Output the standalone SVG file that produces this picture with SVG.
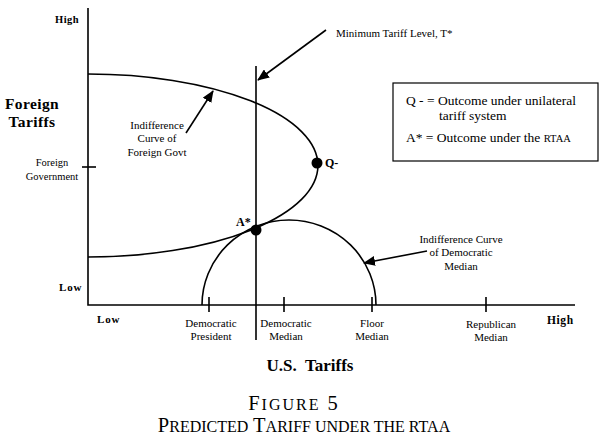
<svg xmlns="http://www.w3.org/2000/svg" width="609" height="446" viewBox="0 0 609 446">
<style>
text{font-family:"Liberation Serif","Times New Roman",serif;fill:#000}
.s{font-size:11px}
.b{font-weight:bold}
.m{text-anchor:middle}
.ln{stroke:#000;stroke-width:1.6;fill:none}
</style>
<defs>
<marker id="ah" markerWidth="12" markerHeight="10" refX="11" refY="5" orient="auto" markerUnits="userSpaceOnUse">
<path d="M0,0 L12,5 L0,10 Z" fill="#000"/>
</marker>
</defs>
<rect width="609" height="446" fill="#fff"/>
<g id="axes">
<path class="ln" d="M88,8 V305 H575"/>
<path class="ln" d="M82,167 H96"/>
<path class="ln" d="M209,297 V312 M284,297 V312 M372,297 V312 M486,297 V312"/>
<text class="b" x="55" y="23" font-size="10.5" letter-spacing="0.5">High</text>
<text class="b" x="59" y="291" font-size="11" letter-spacing="0.8">Low</text>
<text class="b" x="97" y="323" font-size="11" letter-spacing="0.8">Low</text>
<text class="b" x="547" y="324" font-size="11.5" letter-spacing="0.6">High</text>
<text class="b m" x="32" y="109" font-size="15.5" letter-spacing="0.4">Foreign</text>
<text class="b m" x="32" y="127" font-size="15.5" letter-spacing="0.4">Tariffs</text>
<text class="m" x="52" y="166" font-size="10.5">Foreign</text>
<text class="m" x="52" y="180" font-size="10.5">Government</text>
<text class="b m" x="310" y="371" font-size="17" xml:space="preserve">U.S.  Tariffs</text>
</g>
<g id="ticklabels">
<text class="s m" x="211" y="327">Democratic</text>
<text class="s m" x="211" y="340">President</text>
<text class="s m" x="286" y="327">Democratic</text>
<text class="s m" x="286" y="340">Median</text>
<text class="s m" x="372" y="327">Floor</text>
<text class="s m" x="372" y="340">Median</text>
<text class="s m" x="491" y="328">Republican</text>
<text class="s m" x="491" y="341">Median</text>
</g>
<g id="foreign-curve">
<path class="ln" d="M88,74 A230,91.5 0 0 1 88,257"/>
</g>
<g id="democratic-curve">
<path class="ln" d="M202,305 A87,85 0 0 1 376,305"/>
</g>
<g id="min-tariff-line">
<path class="ln" d="M256,66 V340"/>
</g>
<g id="point-q">
<circle cx="317" cy="163" r="5.5" fill="#000"/>
<text class="b" x="325" y="167" font-size="12">Q-</text>
</g>
<g id="point-a">
<circle cx="256" cy="230" r="5.5" fill="#000"/>
<text class="b" x="236" y="226" font-size="12">A*</text>
</g>
<g id="connectors">
<line class="ln" x1="326" y1="30" x2="258" y2="80" marker-end="url(#ah)"/>
<line class="ln" x1="186" y1="133" x2="213" y2="91" marker-end="url(#ah)"/>
<line class="ln" x1="427" y1="251" x2="364" y2="263" marker-end="url(#ah)"/>
</g>
<g id="labels">
<text class="s" x="336" y="37" font-size="11.5">Minimum Tariff Level, T*</text>
<text class="s m" x="157" y="129">Indifference</text>
<text class="s m" x="157" y="142">Curve of</text>
<text class="s m" x="157" y="156">Foreign Govt</text>
<text class="s m" x="461" y="243">Indifference Curve</text>
<text class="s m" x="461" y="256">of Democratic</text>
<text class="s m" x="461" y="270">Median</text>
</g>
<g id="legend">
<rect x="393" y="83" width="205" height="78" fill="none" stroke="#000" stroke-width="1.2"/>
<text x="406" y="105" font-size="13.5">Q - =  Outcome under unilateral</text>
<text x="439" y="120" font-size="13.5">tariff system</text>
<text x="406" y="142" font-size="13.5">A*  = Outcome under the <tspan font-size="10.5">RTAA</tspan></text>
</g>
<g id="caption">
<text class="m" x="294" y="410" font-size="20.5" letter-spacing="2">F<tspan font-size="16">IGURE</tspan> 5</text>
<text class="m" x="304" y="432" font-size="20.5">P<tspan font-size="16">REDICTED</tspan> T<tspan font-size="16">ARIFF UNDER THE RTAA</tspan></text>
</g>
</svg>
